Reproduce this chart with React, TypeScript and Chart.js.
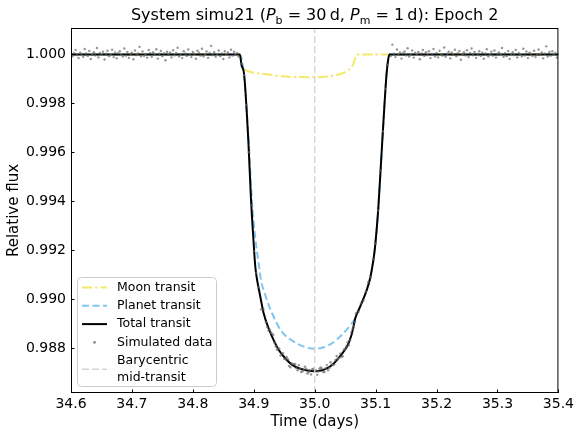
import React, { useEffect, useRef } from "react";
import { Chart, registerables } from "chart.js";

Chart.register(...registerables);

const FONT = "'DejaVu Sans', 'Liberation Sans', sans-serif";

// Axis ticks and limits
const xTicks = [34.6, 34.7, 34.8, 34.9, 35.0, 35.1, 35.2, 35.3, 35.4];
const yTicks = [0.988, 0.99, 0.992, 0.994, 0.996, 0.998, 1.0];
const xMin = 34.6;
const xMax = 35.4;
const yMin = 0.98616;
const yMax = 1.00108;

const midTransitTime = 35.0;

// Moon transit model
const moonTime = [34.6, 34.8775, 34.88, 34.883, 34.888, 34.895, 34.914, 34.952, 35.0, 35.039, 35.05, 35.058, 35.0637, 35.067, 35.069, 35.4];
const moonFlux = [1.0, 1.0, 0.9996, 0.99945, 0.99935, 0.99928, 0.99921, 0.9991, 0.99907, 0.99918, 0.99928, 0.99942, 0.99962, 0.9999, 1.0, 1.0];

// Planet transit model
const planetTime = [34.6, 34.8775, 34.881, 34.8845, 34.8915, 34.897, 34.9025, 34.9097, 34.9118, 34.919, 34.93, 34.945, 34.9685, 34.985, 35.0, 35.015, 35.03, 35.047, 35.061, 35.0665, 35.0746, 35.0854, 35.091, 35.0963, 35.099, 35.1045, 35.111, 35.118, 35.121, 35.123, 35.4];
const planetFlux = [1.0, 1.0, 0.9997, 0.999, 0.9965, 0.994, 0.9925, 0.99115, 0.99078, 0.99015, 0.98942, 0.9887, 0.98822, 0.98803, 0.98797, 0.98803, 0.98822, 0.9886, 0.98901, 0.98921, 0.98969, 0.99037, 0.99085, 0.99159, 0.99212, 0.99376, 0.99649, 0.99922, 0.99985, 1.0, 1.0];

// Total transit model
const totalTime = [34.6, 34.877, 34.88, 34.884, 34.891, 34.8955, 34.8988, 34.9025, 34.906, 34.9097, 34.9162, 34.9244, 34.933, 34.941, 34.952, 34.963, 34.975, 34.988, 35.0, 35.01, 35.02, 35.03, 35.0364, 35.045, 35.0527, 35.058, 35.0625, 35.0665, 35.0746, 35.0854, 35.091, 35.0963, 35.099, 35.1045, 35.111, 35.118, 35.121, 35.123, 35.4];
const totalFlux = [1.0, 1.0, 0.99955, 0.99922, 0.99649, 0.99404, 0.99268, 0.99132, 0.9907, 0.99023, 0.98942, 0.9888, 0.9883, 0.98792, 0.98757, 0.98731, 0.98716, 0.98708, 0.98705, 0.98708, 0.98717, 0.98734, 0.98751, 0.98777, 0.98805, 0.98835, 0.98873, 0.98921, 0.98969, 0.99037, 0.99085, 0.99159, 0.99212, 0.99376, 0.99649, 0.99922, 0.99985, 1.0, 1.0];

// Simulated data (time, relative flux)
const dataBefore: [number, number][] = [
  [34.6, 1.00012], [34.6025, 0.99992], [34.605, 1.00005], [34.6075, 1.00018], [34.61, 0.99997], [34.6125, 0.99985], [34.615, 1.00007], [34.6175, 1.00002], [34.62, 0.9999], [34.6225, 1.00022],
  [34.625, 1.00004], [34.6275, 0.99994], [34.63, 1.00014], [34.6325, 0.99981], [34.635, 1.00001], [34.6375, 1.00009], [34.64, 0.99996], [34.6425, 1.00026], [34.645, 0.99988], [34.6475, 1.00006],
  [34.65, 0.99998], [34.6525, 1.00011], [34.655, 0.99979], [34.6575, 1.00003], [34.66, 1.00015], [34.6625, 0.99993], [34.665, 1.0], [34.6675, 1.00019], [34.67, 0.99989], [34.6725, 1.00008],
  [34.675, 0.99984], [34.6775, 1.00005], [34.68, 1.00013], [34.6825, 0.99999], [34.685, 0.99991], [34.6875, 1.00024], [34.69, 0.99995], [34.6925, 1.0001], [34.695, 0.99986], [34.6975, 1.00002],
  [34.7, 1.00007], [34.7025, 0.9998], [34.705, 1.00016], [34.7075, 0.99997], [34.71, 1.00004], [34.7125, 1.00031], [34.715, 0.99992], [34.7175, 1.00012], [34.72, 0.99994], [34.7225, 1.00001],
  [34.725, 0.99987], [34.7275, 1.00018], [34.73, 1.00006], [34.7325, 0.9999], [34.735, 1.00009], [34.7375, 0.99998], [34.74, 1.00021], [34.7425, 0.99983], [34.745, 1.00003], [34.7475, 1.00014],
  [34.75, 0.99993], [34.7525, 1.00005], [34.755, 0.99976], [34.7575, 1.00011], [34.76, 1.0], [34.7625, 1.00008], [34.765, 0.99988], [34.7675, 1.00017], [34.77, 0.99996], [34.7725, 1.00006],
  [34.775, 1.00027], [34.7775, 0.99991], [34.78, 1.00002], [34.7825, 0.99985], [34.785, 1.00013], [34.7875, 1.00004], [34.79, 0.99994], [34.7925, 1.0002], [34.795, 0.99999], [34.7975, 0.99989],
  [34.8, 1.0001], [34.8025, 1.00003], [34.805, 0.99982], [34.8075, 1.00015], [34.81, 1.00007], [34.8125, 0.99995], [34.815, 1.00023], [34.8175, 0.99992], [34.82, 1.00001], [34.8225, 1.00012],
  [34.825, 0.99986], [34.8275, 1.00006], [34.83, 1.00035], [34.8325, 0.99997], [34.835, 1.00009], [34.8375, 0.9999], [34.84, 1.00002], [34.8425, 1.00016], [34.845, 0.99993], [34.8475, 1.00004],
  [34.85, 0.99981], [34.8525, 1.00013], [34.855, 1.0], [34.8575, 1.00008], [34.86, 0.99988], [34.8625, 1.00019], [34.865, 0.99995], [34.8675, 1.00011], [34.87, 0.99998], [34.8725, 1.00006],
  [34.875, 0.99991],
];

const dataInTransit: [number, number][] = [
  [34.88, 0.99963], [34.884, 0.99915], [34.888, 0.99792], [34.892, 0.996], [34.896, 0.99383], [34.9, 0.99196], [34.904, 0.99106], [34.908, 0.99049], [34.912, 0.98958], [34.916, 0.98957],
  [34.92, 0.98905], [34.924, 0.98871], [34.928, 0.98862], [34.932, 0.98853], [34.936, 0.98807], [34.94, 0.98798], [34.944, 0.98769], [34.948, 0.98779], [34.952, 0.98754], [34.956, 0.98754],
  [34.96, 0.98721], [34.964, 0.98734], [34.968, 0.98734], [34.972, 0.98709], [34.976, 0.98715], [34.98, 0.98705], [34.984, 0.98723], [34.988, 0.98696], [34.992, 0.98709], [34.996, 0.98713],
  [35.0, 0.98703], [35.004, 0.98691], [35.008, 0.98716], [35.012, 0.98715], [35.016, 0.98702], [35.02, 0.9873], [35.024, 0.98718], [35.028, 0.98733], [35.032, 0.98732], [35.036, 0.98767],
  [35.04, 0.98759], [35.044, 0.98763], [35.048, 0.98794], [35.052, 0.98806], [35.056, 0.98811], [35.06, 0.98865], [35.064, 0.98889], [35.068, 0.98942], [35.072, 0.98948], [35.076, 0.98982],
  [35.08, 0.98993], [35.084, 0.99031], [35.088, 0.99069], [35.092, 0.99089], [35.096, 0.99163], [35.1, 0.99227], [35.104, 0.99362], [35.108, 0.99526], [35.112, 0.99686], [35.116, 0.99859],
  [35.12, 0.99958],
  [34.922, 0.98886], [34.926, 0.98876], [34.93, 0.98859], [34.934, 0.98821], [34.938, 0.98793], [34.942, 0.98797], [34.946, 0.98777], [34.95, 0.98756], [34.954, 0.98763], [34.958, 0.98727],
  [34.962, 0.98738], [34.966, 0.98735], [34.97, 0.98717], [34.974, 0.9873], [34.978, 0.98702], [34.982, 0.98711], [34.986, 0.98715], [34.99, 0.98701], [34.994, 0.98692], [34.998, 0.98715],
  [35.002, 0.98709], [35.006, 0.98704], [35.01, 0.9872], [35.014, 0.98702], [35.018, 0.98717], [35.022, 0.98709], [35.026, 0.98742], [35.03, 0.9873], [35.034, 0.98751], [35.038, 0.98755],
  [35.042, 0.98777], [35.046, 0.98766], [35.05, 0.98796], [35.054, 0.98823], [35.058, 0.98831], [35.062, 0.98877], [35.066, 0.98906],
];

const dataAfter: [number, number][] = [
  [35.125, 0.99994], [35.1275, 1.0004], [35.13, 1.00003], [35.1325, 0.99989], [35.135, 1.0002], [35.1375, 0.99998], [35.14, 1.00008], [35.1425, 0.99983], [35.145, 1.00005], [35.1475, 1.00012],
  [35.15, 0.99996], [35.1525, 1.00025], [35.155, 0.99991], [35.1575, 1.00001], [35.16, 1.00016], [35.1625, 0.99987], [35.165, 1.00007], [35.1675, 0.99999], [35.17, 1.0001], [35.1725, 0.9998],
  [35.175, 1.00004], [35.1775, 1.00018], [35.18, 0.99994], [35.1825, 1.00009], [35.185, 0.99997], [35.1875, 1.00013], [35.19, 0.99985], [35.1925, 1.00002], [35.195, 1.00022], [35.1975, 0.99992],
  [35.2, 1.00006], [35.2025, 0.99988], [35.205, 1.00015], [35.2075, 1.0], [35.21, 0.99995], [35.2125, 1.00028], [35.215, 0.9999], [35.2175, 1.00003], [35.22, 1.00011], [35.2225, 0.99984],
  [35.225, 1.00008], [35.2275, 0.99998], [35.23, 1.00019], [35.2325, 0.99993], [35.235, 1.00005], [35.2375, 1.00014], [35.24, 0.99978], [35.2425, 1.00001], [35.245, 1.00009], [35.2475, 0.99996],
  [35.25, 1.00017], [35.2525, 0.99989], [35.255, 1.00006], [35.2575, 1.00024], [35.26, 0.99997], [35.2625, 1.0001], [35.265, 0.99986], [35.2675, 1.00002], [35.27, 1.00013], [35.2725, 0.99994],
  [35.275, 1.00007], [35.2775, 0.99982], [35.28, 1.00004], [35.2825, 1.00021], [35.285, 0.99991], [35.2875, 1.0], [35.29, 1.00011], [35.2925, 0.99995], [35.295, 1.00016], [35.2975, 0.99987],
  [35.3, 1.00003], [35.3025, 1.00008], [35.305, 0.99999], [35.3075, 1.00026], [35.31, 0.9999], [35.3125, 1.00005], [35.315, 0.99993], [35.3175, 1.00014], [35.32, 0.99981], [35.3225, 1.00002],
  [35.325, 1.00009], [35.3275, 0.99997], [35.33, 1.00018], [35.3325, 0.99988], [35.335, 1.00006], [35.3375, 1.00001], [35.34, 0.99992], [35.3425, 1.00023], [35.345, 0.99996], [35.3475, 1.00012],
  [35.35, 0.99985], [35.3525, 1.00007], [35.355, 1.00003], [35.3575, 0.99994], [35.36, 1.00015], [35.3625, 0.99989], [35.365, 1.0], [35.3675, 1.0002], [35.37, 0.99998], [35.3725, 1.00008],
  [35.375, 0.99984], [35.3775, 1.00004], [35.38, 1.00033], [35.3825, 0.99991], [35.385, 1.0001], [35.3875, 0.99995], [35.39, 1.00013], [35.3925, 0.99999], [35.395, 1.00006], [35.3975, 0.99987],
  [35.4, 1.00002],
];

const COLORS = {
  moon: "rgba(240,228,66,0.8)",
  planet: "rgba(86,180,233,0.75)",
  total: "#000000",
  data: "rgba(105,105,105,0.7)",
  mid: "#d3d3d3",
};

const DASH = {
  moon: [10, 3, 2.5, 3],
  planet: [7, 3.5],
  mid: [7, 3],
};

const titlePieces = [
  { text: "System simu21 (", style: "normal" },
  { text: "P", style: "italic" },
  { text: "b", style: "sub" },
  { text: " = 30\u2009d, ", style: "normal" },
  { text: "P", style: "italic" },
  { text: "m", style: "sub" },
  { text: " = 1\u2009d): Epoch 2", style: "normal" },
];

const legendItems = [
  { label: ["Moon transit"], kind: "line", color: COLORS.moon, dash: DASH.moon, width: 2 },
  { label: ["Planet transit"], kind: "line", color: COLORS.planet, dash: DASH.planet, width: 2 },
  { label: ["Total transit"], kind: "line", color: COLORS.total, dash: [], width: 2 },
  { label: ["Simulated data"], kind: "point", color: "rgba(105,105,105,0.8)", dash: [], width: 0 },
  { label: ["Barycentric", "mid-transit"], kind: "line", color: COLORS.mid, dash: DASH.mid, width: 1.5 },
];

const toXY = (ts: number[], fs: number[]) => ts.map((t, i) => ({ x: t, y: fs[i] }));

const decorPlugin = {
  id: "decor",
  afterDraw(chart: any) {
    const ctx = chart.ctx as CanvasRenderingContext2D;
    const { left, right, top, bottom } = chart.chartArea;
    const xs = chart.scales.x;
    const ys = chart.scales.y;
    ctx.save();

    // inward ticks
    ctx.strokeStyle = "#000";
    ctx.lineWidth = 1;
    ctx.setLineDash([]);
    ctx.beginPath();
    xTicks.forEach((v) => {
      const p = Math.round(xs.getPixelForValue(v)) + 0.5;
      ctx.moveTo(p, bottom);
      ctx.lineTo(p, bottom - 3.5);
    });
    yTicks.forEach((v) => {
      const p = Math.round(ys.getPixelForValue(v)) + 0.5;
      ctx.moveTo(left, p);
      ctx.lineTo(left + 3.5, p);
    });
    ctx.stroke();

    // frame
    ctx.strokeRect(left + 0.5, top + 0.5, right - left - 1, bottom - top - 1);

    // title
    const fontFor = (style: string) =>
      style === "italic" ? `italic 16px ${FONT}` : style === "sub" ? `11px ${FONT}` : `16px ${FONT}`;
    let total = 0;
    titlePieces.forEach((p) => {
      ctx.font = fontFor(p.style);
      total += ctx.measureText(p.text).width;
    });
    let tx = (left + right) / 2 - total / 2;
    const ty = 20;
    ctx.fillStyle = "#000";
    ctx.textBaseline = "alphabetic";
    ctx.textAlign = "left";
    titlePieces.forEach((p) => {
      ctx.font = fontFor(p.style);
      ctx.fillText(p.text, tx, p.style === "sub" ? ty + 3.5 : ty);
      tx += ctx.measureText(p.text).width;
    });

    // legend
    const lx = left + 6;
    const ly = bottom - 116;
    const lw = 139;
    const lh = 109;
    ctx.beginPath();
    (ctx as any).roundRect(lx + 0.5, ly + 0.5, lw, lh, 4);
    ctx.fillStyle = "rgba(255,255,255,0.8)";
    ctx.fill();
    ctx.strokeStyle = "#cccccc";
    ctx.lineWidth = 1;
    ctx.stroke();

    ctx.font = `12.5px ${FONT}`;
    ctx.textBaseline = "middle";
    let rowY = ly + 10.5;
    legendItems.forEach((item) => {
      const lines = item.label.length;
      const centerY = rowY + ((lines - 1) * 17) / 2;
      if (item.kind === "line") {
        ctx.beginPath();
        ctx.setLineDash(item.dash);
        ctx.strokeStyle = item.color;
        ctx.lineWidth = item.width;
        ctx.moveTo(lx + 5, centerY);
        ctx.lineTo(lx + 30, centerY);
        ctx.stroke();
        ctx.setLineDash([]);
      } else {
        ctx.beginPath();
        ctx.fillStyle = item.color;
        ctx.arc(lx + 17.5, centerY, 1.3, 0, Math.PI * 2);
        ctx.fill();
      }
      ctx.fillStyle = "#000";
      item.label.forEach((s, i) => ctx.fillText(s, lx + 40, rowY + i * 17));
      rowY += lines * 17 + 1.3;
    });

    ctx.restore();
  },
};

export default function App() {
  const canvasRef = useRef<HTMLCanvasElement | null>(null);

  useEffect(() => {
    document.body.style.margin = "0";
    const canvas = canvasRef.current;
    if (!canvas) return;
    Chart.defaults.font.family = FONT;

    const simulated = [...dataBefore, ...dataInTransit, ...dataAfter].map(([t, f]) => ({ x: t, y: f }));

    const chart = new Chart(canvas, {
      type: "line",
      data: {
        datasets: [
          {
            label: "Barycentric mid-transit",
            data: [
              { x: midTransitTime, y: yMin },
              { x: midTransitTime, y: yMax },
            ],
            borderColor: COLORS.mid,
            borderWidth: 1.3,
            borderDash: DASH.mid,
            pointRadius: 0,
          },
          {
            label: "Simulated data",
            data: simulated,
            showLine: false,
            pointRadius: 1.2,
            pointBackgroundColor: COLORS.data,
            pointBorderWidth: 0,
            borderColor: COLORS.data,
          },
          {
            label: "Total transit",
            data: toXY(totalTime, totalFlux),
            borderColor: COLORS.total,
            borderWidth: 2,
            pointRadius: 0,
            cubicInterpolationMode: "monotone",
          },
          {
            label: "Planet transit",
            data: toXY(planetTime, planetFlux),
            borderColor: COLORS.planet,
            borderWidth: 2,
            borderDash: DASH.planet,
            pointRadius: 0,
            cubicInterpolationMode: "monotone",
          },
          {
            label: "Moon transit",
            data: toXY(moonTime, moonFlux),
            borderColor: COLORS.moon,
            borderWidth: 2,
            borderDash: DASH.moon,
            pointRadius: 0,
            cubicInterpolationMode: "monotone",
          },
        ],
      },
      options: {
        animation: false,
        responsive: false,
        devicePixelRatio: 1,
        events: [],
        layout: { padding: { top: 28, right: 16, bottom: 0, left: 0 } },
        plugins: {
          legend: { display: false },
          title: { display: false },
          tooltip: { enabled: false },
        },
        scales: {
          x: {
            type: "linear",
            min: xMin,
            max: xMax,
            grid: { display: false, drawTicks: false },
            border: { display: false },
            ticks: {
              font: { size: 14, family: FONT },
              color: "#000",
              padding: 3,
              maxRotation: 0,
              autoSkip: false,
              callback: (v: any) => Number(v).toFixed(1),
            },
            afterBuildTicks: (s: any) => {
              s.ticks = xTicks.map((v) => ({ value: v }));
            },
            afterFit: (s: any) => {
              s.height = 39;
            },
            title: {
              display: true,
              text: "Time (days)",
              color: "#000",
              font: { size: 15, family: FONT },
              padding: { top: 0, bottom: 1 },
            },
          },
          y: {
            type: "linear",
            min: yMin,
            max: yMax,
            grid: { display: false, drawTicks: false },
            border: { display: false },
            ticks: {
              font: { size: 14, family: FONT },
              color: "#000",
              padding: 5,
              autoSkip: false,
              callback: (v: any) => Number(v).toFixed(3),
            },
            afterBuildTicks: (s: any) => {
              s.ticks = yTicks.map((v) => ({ value: v }));
            },
            afterFit: (s: any) => {
              s.width = 71;
            },
            title: {
              display: true,
              text: "Relative flux",
              color: "#000",
              font: { size: 15, family: FONT },
              padding: { top: 5, bottom: 0 },
            },
          },
        },
      } as any,
      plugins: [decorPlugin],
    });

    return () => chart.destroy();
  }, []);

  return (
    <div style={{ position: "fixed", left: 0, top: 0, width: 577, height: 432, background: "#fff" }}>
      <canvas ref={canvasRef} width={577} height={432} style={{ display: "block", width: 577, height: 432 }} />
    </div>
  );
}
